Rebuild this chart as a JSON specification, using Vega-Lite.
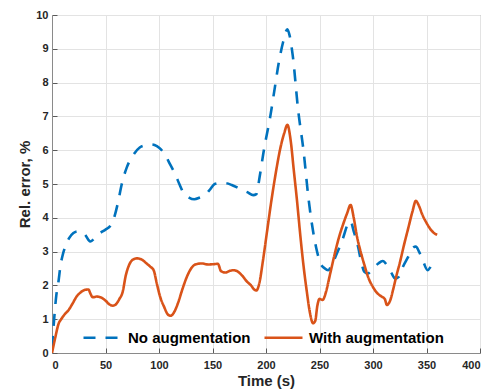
{
  "$schema": "https://vega.github.io/schema/vega-lite/v6.json",
  "autosize": {"type": "none"},
  "padding": {"left": 52, "top": 15, "right": 13, "bottom": 38},
  "width": 428,
  "height": 338,
  "background": "white",
  "config": {
    "view": {"stroke": "#8a8a8a", "strokeWidth": 1},
    "font": "Liberation Sans",
    "axis": {
      "labelFont": "Liberation Sans",
      "labelFontWeight": "bold",
      "labelFontSize": 11,
      "labelColor": "#262626",
      "titleFont": "Liberation Sans",
      "titleFontWeight": "bold",
      "titleFontSize": 15,
      "titleColor": "#262626",
      "gridColor": "#e3e3e3",
      "gridWidth": 1,
      "domainColor": "#8a8a8a",
      "tickColor": "#5a5a5a",
      "tickSize": -5
    }
  },
  "data": {"values": [
    {"t":0,"v":0.15,"s":"No augmentation"},
    {"t":2,"v":1.0,"s":"No augmentation"},
    {"t":4,"v":1.7,"s":"No augmentation"},
    {"t":6,"v":2.1,"s":"No augmentation"},
    {"t":8,"v":2.6,"s":"No augmentation"},
    {"t":10,"v":2.9,"s":"No augmentation"},
    {"t":13,"v":3.2,"s":"No augmentation"},
    {"t":16,"v":3.4,"s":"No augmentation"},
    {"t":20,"v":3.55,"s":"No augmentation"},
    {"t":24,"v":3.6,"s":"No augmentation"},
    {"t":28,"v":3.58,"s":"No augmentation"},
    {"t":31,"v":3.5,"s":"No augmentation"},
    {"t":34,"v":3.35,"s":"No augmentation"},
    {"t":36,"v":3.3,"s":"No augmentation"},
    {"t":40,"v":3.4,"s":"No augmentation"},
    {"t":45,"v":3.55,"s":"No augmentation"},
    {"t":50,"v":3.65,"s":"No augmentation"},
    {"t":55,"v":3.78,"s":"No augmentation"},
    {"t":58,"v":4.0,"s":"No augmentation"},
    {"t":62,"v":4.5,"s":"No augmentation"},
    {"t":65,"v":4.97,"s":"No augmentation"},
    {"t":70,"v":5.5,"s":"No augmentation"},
    {"t":76,"v":5.86,"s":"No augmentation"},
    {"t":82,"v":6.08,"s":"No augmentation"},
    {"t":88,"v":6.15,"s":"No augmentation"},
    {"t":93,"v":6.17,"s":"No augmentation"},
    {"t":98,"v":6.12,"s":"No augmentation"},
    {"t":102,"v":6.02,"s":"No augmentation"},
    {"t":106,"v":5.85,"s":"No augmentation"},
    {"t":110,"v":5.6,"s":"No augmentation"},
    {"t":115,"v":5.3,"s":"No augmentation"},
    {"t":119,"v":5.0,"s":"No augmentation"},
    {"t":123,"v":4.73,"s":"No augmentation"},
    {"t":128,"v":4.6,"s":"No augmentation"},
    {"t":133,"v":4.55,"s":"No augmentation"},
    {"t":138,"v":4.6,"s":"No augmentation"},
    {"t":143,"v":4.68,"s":"No augmentation"},
    {"t":148,"v":4.85,"s":"No augmentation"},
    {"t":152,"v":5.0,"s":"No augmentation"},
    {"t":157,"v":5.03,"s":"No augmentation"},
    {"t":163,"v":5.02,"s":"No augmentation"},
    {"t":168,"v":4.97,"s":"No augmentation"},
    {"t":173,"v":4.9,"s":"No augmentation"},
    {"t":178,"v":4.82,"s":"No augmentation"},
    {"t":183,"v":4.75,"s":"No augmentation"},
    {"t":188,"v":4.67,"s":"No augmentation"},
    {"t":191,"v":4.7,"s":"No augmentation"},
    {"t":194,"v":5.2,"s":"No augmentation"},
    {"t":198,"v":6.0,"s":"No augmentation"},
    {"t":204,"v":7.0,"s":"No augmentation"},
    {"t":208,"v":7.8,"s":"No augmentation"},
    {"t":212,"v":8.6,"s":"No augmentation"},
    {"t":216,"v":9.2,"s":"No augmentation"},
    {"t":220,"v":9.58,"s":"No augmentation"},
    {"t":222,"v":9.4,"s":"No augmentation"},
    {"t":225,"v":8.8,"s":"No augmentation"},
    {"t":230,"v":7.2,"s":"No augmentation"},
    {"t":235,"v":6.0,"s":"No augmentation"},
    {"t":240,"v":4.5,"s":"No augmentation"},
    {"t":243,"v":3.8,"s":"No augmentation"},
    {"t":247,"v":3.1,"s":"No augmentation"},
    {"t":251,"v":2.65,"s":"No augmentation"},
    {"t":255,"v":2.5,"s":"No augmentation"},
    {"t":258,"v":2.45,"s":"No augmentation"},
    {"t":262,"v":2.65,"s":"No augmentation"},
    {"t":267,"v":3.0,"s":"No augmentation"},
    {"t":272,"v":3.4,"s":"No augmentation"},
    {"t":277,"v":3.85,"s":"No augmentation"},
    {"t":279,"v":3.9,"s":"No augmentation"},
    {"t":282,"v":3.6,"s":"No augmentation"},
    {"t":286,"v":3.15,"s":"No augmentation"},
    {"t":289,"v":2.7,"s":"No augmentation"},
    {"t":292,"v":2.4,"s":"No augmentation"},
    {"t":295,"v":2.35,"s":"No augmentation"},
    {"t":300,"v":2.5,"s":"No augmentation"},
    {"t":305,"v":2.65,"s":"No augmentation"},
    {"t":309,"v":2.72,"s":"No augmentation"},
    {"t":313,"v":2.6,"s":"No augmentation"},
    {"t":317,"v":2.38,"s":"No augmentation"},
    {"t":321,"v":2.2,"s":"No augmentation"},
    {"t":324,"v":2.25,"s":"No augmentation"},
    {"t":328,"v":2.55,"s":"No augmentation"},
    {"t":333,"v":2.85,"s":"No augmentation"},
    {"t":337,"v":3.1,"s":"No augmentation"},
    {"t":340,"v":3.15,"s":"No augmentation"},
    {"t":343,"v":3.0,"s":"No augmentation"},
    {"t":347,"v":2.7,"s":"No augmentation"},
    {"t":351,"v":2.45,"s":"No augmentation"},
    {"t":355,"v":2.6,"s":"No augmentation"},
    {"t":360,"v":2.72,"s":"No augmentation"},
    {"t":0,"v":0,"s":"With augmentation"},
    {"t":3,"v":0.45,"s":"With augmentation"},
    {"t":6,"v":0.85,"s":"With augmentation"},
    {"t":9,"v":1.02,"s":"With augmentation"},
    {"t":12,"v":1.15,"s":"With augmentation"},
    {"t":15,"v":1.25,"s":"With augmentation"},
    {"t":19,"v":1.45,"s":"With augmentation"},
    {"t":23,"v":1.67,"s":"With augmentation"},
    {"t":27,"v":1.8,"s":"With augmentation"},
    {"t":31,"v":1.87,"s":"With augmentation"},
    {"t":34,"v":1.88,"s":"With augmentation"},
    {"t":36,"v":1.75,"s":"With augmentation"},
    {"t":38,"v":1.65,"s":"With augmentation"},
    {"t":42,"v":1.67,"s":"With augmentation"},
    {"t":46,"v":1.64,"s":"With augmentation"},
    {"t":50,"v":1.55,"s":"With augmentation"},
    {"t":54,"v":1.43,"s":"With augmentation"},
    {"t":57,"v":1.4,"s":"With augmentation"},
    {"t":60,"v":1.45,"s":"With augmentation"},
    {"t":63,"v":1.6,"s":"With augmentation"},
    {"t":66,"v":1.8,"s":"With augmentation"},
    {"t":69,"v":2.3,"s":"With augmentation"},
    {"t":72,"v":2.6,"s":"With augmentation"},
    {"t":76,"v":2.77,"s":"With augmentation"},
    {"t":80,"v":2.8,"s":"With augmentation"},
    {"t":84,"v":2.76,"s":"With augmentation"},
    {"t":88,"v":2.66,"s":"With augmentation"},
    {"t":92,"v":2.55,"s":"With augmentation"},
    {"t":95,"v":2.45,"s":"With augmentation"},
    {"t":98,"v":2.05,"s":"With augmentation"},
    {"t":101,"v":1.67,"s":"With augmentation"},
    {"t":105,"v":1.35,"s":"With augmentation"},
    {"t":108,"v":1.15,"s":"With augmentation"},
    {"t":111,"v":1.1,"s":"With augmentation"},
    {"t":114,"v":1.2,"s":"With augmentation"},
    {"t":118,"v":1.5,"s":"With augmentation"},
    {"t":122,"v":1.9,"s":"With augmentation"},
    {"t":126,"v":2.25,"s":"With augmentation"},
    {"t":130,"v":2.5,"s":"With augmentation"},
    {"t":134,"v":2.62,"s":"With augmentation"},
    {"t":140,"v":2.65,"s":"With augmentation"},
    {"t":146,"v":2.62,"s":"With augmentation"},
    {"t":152,"v":2.63,"s":"With augmentation"},
    {"t":155,"v":2.64,"s":"With augmentation"},
    {"t":158,"v":2.42,"s":"With augmentation"},
    {"t":162,"v":2.38,"s":"With augmentation"},
    {"t":166,"v":2.43,"s":"With augmentation"},
    {"t":170,"v":2.45,"s":"With augmentation"},
    {"t":174,"v":2.4,"s":"With augmentation"},
    {"t":178,"v":2.28,"s":"With augmentation"},
    {"t":182,"v":2.12,"s":"With augmentation"},
    {"t":186,"v":2.0,"s":"With augmentation"},
    {"t":189,"v":1.88,"s":"With augmentation"},
    {"t":191,"v":1.85,"s":"With augmentation"},
    {"t":194,"v":2.1,"s":"With augmentation"},
    {"t":197,"v":2.7,"s":"With augmentation"},
    {"t":201,"v":3.6,"s":"With augmentation"},
    {"t":205,"v":4.5,"s":"With augmentation"},
    {"t":209,"v":5.3,"s":"With augmentation"},
    {"t":213,"v":6.0,"s":"With augmentation"},
    {"t":217,"v":6.5,"s":"With augmentation"},
    {"t":220,"v":6.75,"s":"With augmentation"},
    {"t":223,"v":6.3,"s":"With augmentation"},
    {"t":226,"v":5.4,"s":"With augmentation"},
    {"t":229,"v":4.5,"s":"With augmentation"},
    {"t":232,"v":3.5,"s":"With augmentation"},
    {"t":235,"v":2.6,"s":"With augmentation"},
    {"t":238,"v":1.85,"s":"With augmentation"},
    {"t":241,"v":1.2,"s":"With augmentation"},
    {"t":244,"v":0.88,"s":"With augmentation"},
    {"t":246,"v":0.95,"s":"With augmentation"},
    {"t":248,"v":1.4,"s":"With augmentation"},
    {"t":250,"v":1.6,"s":"With augmentation"},
    {"t":253,"v":1.57,"s":"With augmentation"},
    {"t":256,"v":1.8,"s":"With augmentation"},
    {"t":260,"v":2.35,"s":"With augmentation"},
    {"t":264,"v":2.9,"s":"With augmentation"},
    {"t":268,"v":3.4,"s":"With augmentation"},
    {"t":272,"v":3.8,"s":"With augmentation"},
    {"t":276,"v":4.15,"s":"With augmentation"},
    {"t":279,"v":4.38,"s":"With augmentation"},
    {"t":282,"v":4.0,"s":"With augmentation"},
    {"t":285,"v":3.45,"s":"With augmentation"},
    {"t":288,"v":3.05,"s":"With augmentation"},
    {"t":292,"v":2.6,"s":"With augmentation"},
    {"t":296,"v":2.2,"s":"With augmentation"},
    {"t":300,"v":1.95,"s":"With augmentation"},
    {"t":304,"v":1.77,"s":"With augmentation"},
    {"t":308,"v":1.67,"s":"With augmentation"},
    {"t":311,"v":1.6,"s":"With augmentation"},
    {"t":313,"v":1.42,"s":"With augmentation"},
    {"t":316,"v":1.55,"s":"With augmentation"},
    {"t":319,"v":1.9,"s":"With augmentation"},
    {"t":322,"v":2.3,"s":"With augmentation"},
    {"t":325,"v":2.66,"s":"With augmentation"},
    {"t":329,"v":3.2,"s":"With augmentation"},
    {"t":333,"v":3.7,"s":"With augmentation"},
    {"t":337,"v":4.2,"s":"With augmentation"},
    {"t":340,"v":4.5,"s":"With augmentation"},
    {"t":343,"v":4.35,"s":"With augmentation"},
    {"t":346,"v":4.1,"s":"With augmentation"},
    {"t":350,"v":3.85,"s":"With augmentation"},
    {"t":354,"v":3.65,"s":"With augmentation"},
    {"t":357,"v":3.55,"s":"With augmentation"},
    {"t":360,"v":3.5,"s":"With augmentation"}
  ]},
  "mark": {"type": "line", "interpolate": "monotone", "strokeWidth": 2.6, "clip": true},
  "encoding": {
    "x": {
      "field": "t", "type": "quantitative",
      "scale": {"domain": [0, 400], "nice": false, "zero": false},
      "axis": {"values": [0,50,100,150,200,250,300,350,400], "title": "Time (s)", "labelPadding": 11, "titlePadding": 3, "grid": true}
    },
    "y": {
      "field": "v", "type": "quantitative",
      "scale": {"domain": [0, 10], "nice": false},
      "axis": {"values": [0,1,2,3,4,5,6,7,8,9,10], "title": "Rel. error, %", "labelPadding": 9, "titlePadding": 3, "grid": true}
    },
    "color": {
      "field": "s", "type": "nominal",
      "scale": {"domain": ["No augmentation", "With augmentation"], "range": ["#0072BD", "#D95319"]},
      "legend": {
        "title": null, "orient": "none", "direction": "horizontal",
        "legendX": 30, "legendY": 302,
        "symbolType": "stroke", "symbolSize": 1444, "symbolStrokeWidth": 2.6,
        "labelFont": "Liberation Sans", "labelFontWeight": "bold", "labelFontSize": 15, "labelColor": "#000000",
        "labelOffset": 5, "columnPadding": 8, "fillColor": null, "strokeColor": null
      }
    },
    "strokeDash": {
      "field": "s", "type": "nominal",
      "scale": {"domain": ["No augmentation", "With augmentation"], "range": [[12, 10], [1, 0]]},
      "legend": {
        "title": null, "orient": "none", "direction": "horizontal",
        "legendX": 30, "legendY": 302,
        "symbolType": "stroke", "symbolSize": 1444, "symbolStrokeWidth": 2.6,
        "labelFont": "Liberation Sans", "labelFontWeight": "bold", "labelFontSize": 15, "labelColor": "#000000",
        "labelOffset": 5, "columnPadding": 8
      }
    }
  }
}
